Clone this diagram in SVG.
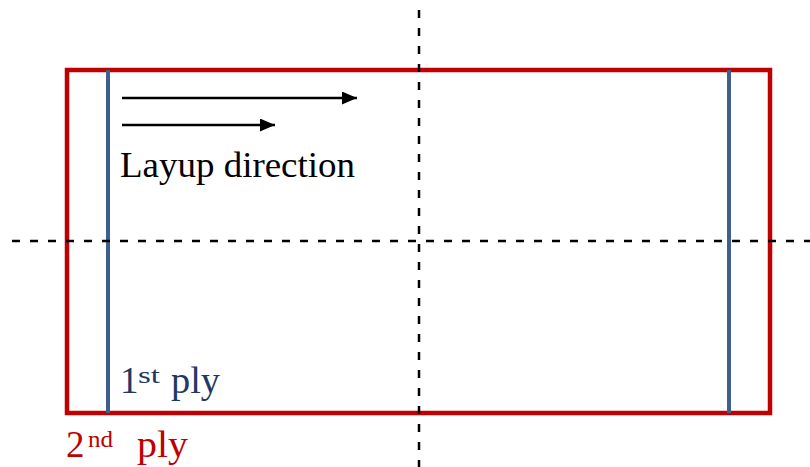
<svg xmlns="http://www.w3.org/2000/svg" width="810" height="467" viewBox="0 0 810 467">
  <defs>
    <marker id="arrowhead" markerWidth="15" markerHeight="13" refX="15" refY="6.5" orient="auto" markerUnits="userSpaceOnUse">
      <path d="M0,0 L15,6.5 L0,13 Z" fill="#000"/>
    </marker>
    <style>
      .ply2 { fill: none; stroke: #C00000; stroke-width: 4.5; }
      .ply1 { stroke: #3F5F8F; stroke-width: 4; }
      .axis { stroke: #000; stroke-width: 2.5; stroke-dasharray: 8 10; }
      .arrow { stroke: #000; stroke-width: 2.5; marker-end: url(#arrowhead); }
      .lbl { font-family: "Liberation Serif", "DejaVu Serif", serif; font-size: 35px; }
      .big { font-size: 37px; }
      .sup { font-size: 23px; }
    </style>
  </defs>

  <g id="ply2">
    <rect class="ply2" x="67" y="70" width="703" height="343"/>
  </g>

  <g id="ply1">
    <line class="ply1" x1="108" y1="70" x2="108" y2="413"/>
    <line class="ply1" x1="729" y1="70" x2="729" y2="413"/>
  </g>

  <g id="connectors">
    <line class="axis" x1="419" y1="10" x2="419" y2="467"/>
    <line class="axis" x1="12" y1="241" x2="810" y2="241"/>
    <line class="arrow" x1="122" y1="98" x2="357" y2="98"/>
    <line class="arrow" x1="122" y1="125" x2="275" y2="125"/>
  </g>

  <g id="layup-label">
    <text class="lbl" x="120" y="177" fill="#000" textLength="235" lengthAdjust="spacingAndGlyphs">Layup direction</text>
  </g>

  <g id="ply1-label" fill="#1F3864">
    <text class="lbl big" x="120" y="393">1</text>
    <text class="lbl sup" x="138" y="383" textLength="22" lengthAdjust="spacingAndGlyphs">st</text>
    <text class="lbl big" x="171" y="393" textLength="49" lengthAdjust="spacingAndGlyphs">ply</text>
  </g>

  <g id="ply2-label" fill="#C00000">
    <text class="lbl big" x="66" y="457">2</text>
    <text class="lbl sup" x="88" y="447" textLength="25" lengthAdjust="spacingAndGlyphs">nd</text>
    <text class="lbl big" x="137" y="457" textLength="51" lengthAdjust="spacingAndGlyphs">ply</text>
  </g>
</svg>
